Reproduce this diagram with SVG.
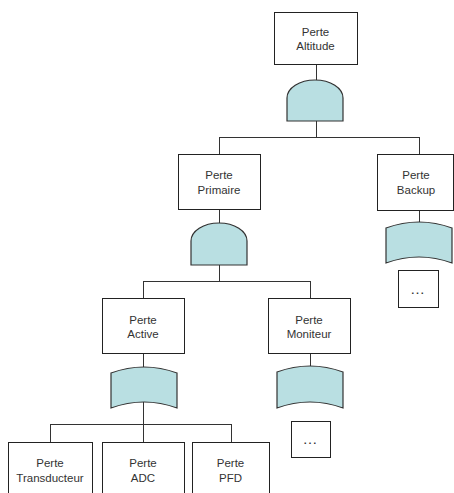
<svg xmlns="http://www.w3.org/2000/svg" width="454" height="493" viewBox="0 0 454 493">
<style>
.box{fill:#fff;stroke:#222;stroke-width:1;shape-rendering:crispEdges}
.gate{fill:#b9dfe2;stroke:#333;stroke-width:1.2}
.ln{stroke:#333;stroke-width:1;fill:none;shape-rendering:crispEdges}
text{font-family:"Liberation Sans",Arial,sans-serif;font-size:11.5px;fill:#333;text-anchor:middle}
.dots{font-size:15px;letter-spacing:1px}
</style>
<rect width="454" height="493" fill="#fff"/>
<g id="connectors">
<path class="ln" d="M316,64V80M316,121V137M219,137H419M219,137V154M419,137V154M219,209V223M219,265V281M143,281H310M143,281V298M310,281V298M143,353V367M310,353V366M419,210V222M143,402V424M50,424H231M50,424V442M143,424V442M231,424V442"/>
</g>
<g id="n-altitude"><rect class="box" x="274" y="12" width="83" height="52"/><text x="315.5" y="36">Perte</text><text x="315.5" y="50">Altitude</text></g>
<g id="g-and1"><path class="gate" d="M287,121V98A28,18 0 0 1 343,98V121Z"/></g>
<g id="n-primaire"><rect class="box" x="178" y="154" width="82" height="55"/><text x="219" y="179">Perte</text><text x="219" y="194">Primaire</text></g>
<g id="g-and2"><path class="gate" d="M191,265V241A28,18 0 0 1 247,241V265Z"/></g>
<g id="n-backup"><rect class="box" x="377" y="154" width="76" height="56"/><text x="416" y="179">Perte</text><text x="416" y="194">Backup</text></g>
<g id="g-backup"><path class="gate" d="M386,228Q419,216 452,228L452,263Q419,251 386,263Z"/></g>
<g id="n-backup-more"><rect class="box" x="398" y="270" width="40" height="37"/><text class="dots" x="418" y="294">…</text></g>
<g id="n-active"><rect class="box" x="102" y="298" width="82" height="55"/><text x="143" y="324">Perte</text><text x="143" y="338">Active</text></g>
<g id="g-active"><path class="gate" d="M111,373Q144,361 177,373L177,408Q144,396 111,408Z"/></g>
<g id="n-moniteur"><rect class="box" x="268" y="298" width="82" height="55"/><text x="309" y="324">Perte</text><text x="309" y="338">Moniteur</text></g>
<g id="g-moniteur"><path class="gate" d="M277,372Q310,360 343,372L343,408Q310,396 277,408Z"/></g>
<g id="n-moniteur-more"><rect class="box" x="291" y="421" width="39" height="36"/><text class="dots" x="310.5" y="444">…</text></g>
<g id="n-transducteur"><rect class="box" x="8" y="442" width="84" height="60"/><text x="50" y="467">Perte</text><text x="50" y="482">Transducteur</text></g>
<g id="n-adc"><rect class="box" x="102" y="442" width="82" height="60"/><text x="143" y="467">Perte</text><text x="143" y="482">ADC</text></g>
<g id="n-pfd"><rect class="box" x="192" y="442" width="77" height="60"/><text x="230.5" y="467">Perte</text><text x="230.5" y="482">PFD</text></g>
</svg>
